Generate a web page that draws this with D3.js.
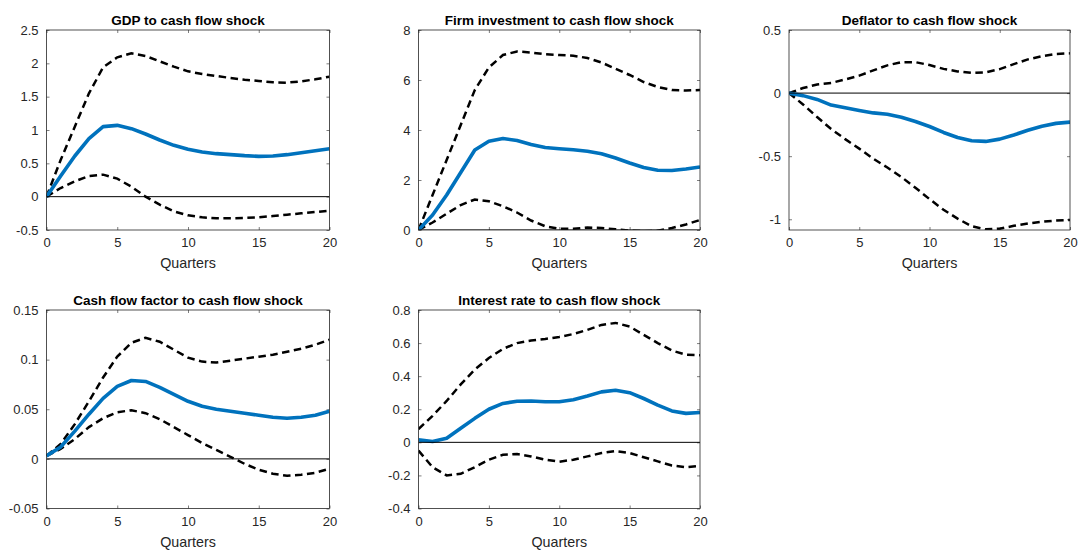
<!DOCTYPE html>
<html>
<head>
<meta charset="utf-8">
<script src="https://cdn.jsdelivr.net/npm/d3@7/dist/d3.min.js"></script>
<style>
  html, body { margin: 0; padding: 0; background: #fff; }
  svg { display: block; font-family: "Liberation Sans", Arial, Helvetica, sans-serif; }
</style>
</head>
<body>
<svg id="chart" width="1078" height="550"></svg>
<script>
// ---------- Data ----------
const quarters = d3.range(0, 21);
const xTicks = [0, 5, 10, 15, 20];

const titles = [
  "GDP to cash flow shock",
  "Firm investment to cash flow shock",
  "Deflator to cash flow shock",
  "Cash flow factor to cash flow shock",
  "Interest rate to cash flow shock"
];

// GDP
const gdpMid   = [0, 0.31, 0.61, 0.87, 1.05, 1.07, 1.02, 0.94, 0.85, 0.77, 0.71, 0.67, 0.645, 0.63, 0.615, 0.605, 0.61, 0.63, 0.66, 0.69, 0.72];
const gdpUpper = [0, 0.55, 1.05, 1.55, 1.94, 2.09, 2.15, 2.11, 2.03, 1.95, 1.88, 1.84, 1.81, 1.78, 1.755, 1.735, 1.715, 1.71, 1.73, 1.76, 1.8];
const gdpLower = [0, 0.13, 0.23, 0.31, 0.33, 0.27, 0.15, 0.0, -0.12, -0.22, -0.28, -0.31, -0.325, -0.325, -0.32, -0.31, -0.29, -0.27, -0.25, -0.23, -0.21];

// Firm investment
const invMid   = [0, 0.6, 1.4, 2.3, 3.2, 3.55, 3.66, 3.58, 3.42, 3.3, 3.25, 3.21, 3.15, 3.05, 2.88, 2.68, 2.5, 2.39, 2.38, 2.44, 2.52];
const invUpper = [0, 1.4, 2.8, 4.2, 5.6, 6.5, 7.0, 7.14, 7.1, 7.03, 7.0, 6.97, 6.88, 6.7, 6.45, 6.2, 5.92, 5.72, 5.6, 5.58, 5.6];
const invLower = [0, 0.3, 0.65, 1.0, 1.22, 1.15, 0.95, 0.7, 0.38, 0.15, 0.05, 0.05, 0.1, 0.08, 0.03, -0.02, -0.05, -0.03, 0.08, 0.22, 0.4];

// Deflator
const defMid   = [0, -0.02, -0.05, -0.095, -0.117, -0.138, -0.157, -0.168, -0.192, -0.225, -0.265, -0.312, -0.352, -0.378, -0.383, -0.365, -0.332, -0.295, -0.262, -0.24, -0.23];
const defUpper = [0, 0.04, 0.068, 0.08, 0.108, 0.138, 0.18, 0.22, 0.245, 0.245, 0.222, 0.192, 0.172, 0.16, 0.165, 0.19, 0.23, 0.267, 0.292, 0.31, 0.315];
const defLower = [0, -0.09, -0.19, -0.285, -0.365, -0.44, -0.52, -0.59, -0.665, -0.75, -0.84, -0.925, -0.995, -1.055, -1.08, -1.075, -1.052, -1.033, -1.02, -1.01, -1.005];

// Cash flow factor
const cffMid   = [0.003, 0.012, 0.028, 0.045, 0.061, 0.073, 0.079, 0.078, 0.072, 0.065, 0.058, 0.053, 0.05, 0.048, 0.046, 0.044, 0.042, 0.041, 0.042, 0.044, 0.048];
const cffUpper = [0.003, 0.015, 0.035, 0.058, 0.082, 0.103, 0.117, 0.122, 0.118, 0.11, 0.102, 0.098, 0.097, 0.099, 0.101, 0.103, 0.105, 0.108, 0.111, 0.115, 0.12];
const cffLower = [0.003, 0.01, 0.02, 0.032, 0.041, 0.047, 0.049, 0.046, 0.04, 0.032, 0.024, 0.016, 0.009, 0.002, -0.005, -0.011, -0.015, -0.017, -0.016, -0.014, -0.01];

// Interest rate
const irMid   = [0.015, 0.005, 0.025, 0.085, 0.145, 0.2, 0.235, 0.248, 0.25, 0.245, 0.245, 0.258, 0.28, 0.305, 0.315, 0.3, 0.265, 0.225, 0.19, 0.175, 0.18];
const irUpper = [0.08, 0.16, 0.25, 0.35, 0.44, 0.51, 0.565, 0.6, 0.615, 0.625, 0.637, 0.655, 0.68, 0.71, 0.722, 0.7, 0.65, 0.6, 0.555, 0.53, 0.527];
const irLower = [-0.05, -0.15, -0.2, -0.19, -0.15, -0.105, -0.075, -0.07, -0.085, -0.105, -0.117, -0.105, -0.085, -0.065, -0.053, -0.065, -0.09, -0.115, -0.14, -0.15, -0.142];

const yDomains = [[-0.5, 2.5], [0, 8], [-1.085, 0.5], [-0.05, 0.15], [-0.4, 0.8]];
const yTickLists = [
  [-0.5, 0, 0.5, 1, 1.5, 2, 2.5],
  [0, 2, 4, 6, 8],
  [-1, -0.5, 0, 0.5],
  [-0.05, 0, 0.05, 0.1, 0.15],
  [-0.4, -0.2, 0, 0.2, 0.4, 0.6, 0.8]
];
const midSeries   = [gdpMid, invMid, defMid, cffMid, irMid];
const upperSeries = [gdpUpper, invUpper, defUpper, cffUpper, irUpper];
const lowerSeries = [gdpLower, invLower, defLower, cffLower, irLower];

// ---------- Layout ----------
const cols = [[46.5, 329.5], [418.5, 700], [789, 1070]];
const rows = [[30, 230], [310, 508.5]];
const boxes = [
  { c: 0, r: 0 }, { c: 1, r: 0 }, { c: 2, r: 0 },
  { c: 0, r: 1 }, { c: 1, r: 1 }
];

const svg = d3.select("#chart");
const axisColor = "#262626";
const fmt = v => String(+v.toFixed(4));

boxes.forEach((b, i) => {
  const [x0, x1] = cols[b.c];
  const [y0, y1] = rows[b.r];
  const x = d3.scaleLinear().domain([0, 20]).range([x0, x1]);
  const y = d3.scaleLinear().domain(yDomains[i]).range([y1, y0]);
  const g = svg.append("g");

  const clipId = "clip" + i;
  g.append("clipPath").attr("id", clipId)
    .append("rect").attr("x", x0).attr("y", y0).attr("width", x1 - x0).attr("height", y1 - y0);

  // axes (inward ticks, boxed)
  const tl = 3;
  g.append("g").attr("transform", `translate(0,${y1})`)
    .call(d3.axisBottom(x).tickValues(xTicks).tickSizeInner(-tl).tickSizeOuter(0).tickPadding(8).tickFormat(fmt))
    .call(a => a.select(".domain").remove())
    .call(a => a.selectAll("line").attr("stroke", axisColor).attr("stroke-width", 0.6))
    .call(a => a.selectAll("text").attr("fill", axisColor).attr("font-size", "13px").attr("dy", "0.71em"));
  g.append("g").attr("transform", `translate(0,${y0})`)
    .call(d3.axisTop(x).tickValues(xTicks).tickSizeInner(-tl).tickSizeOuter(0).tickFormat(""))
    .call(a => a.select(".domain").remove())
    .call(a => a.selectAll("line").attr("stroke", axisColor).attr("stroke-width", 0.6));
  g.append("g").attr("transform", `translate(${x0},0)`)
    .call(d3.axisLeft(y).tickValues(yTickLists[i]).tickSizeInner(-tl).tickSizeOuter(0).tickPadding(8).tickFormat(fmt))
    .call(a => a.select(".domain").remove())
    .call(a => a.selectAll("line").attr("stroke", axisColor).attr("stroke-width", 0.6))
    .call(a => a.selectAll("text").attr("fill", axisColor).attr("font-size", "13px"));
  g.append("g").attr("transform", `translate(${x1},0)`)
    .call(d3.axisRight(y).tickValues(yTickLists[i]).tickSizeInner(-tl).tickSizeOuter(0).tickFormat(""))
    .call(a => a.select(".domain").remove())
    .call(a => a.selectAll("line").attr("stroke", axisColor).attr("stroke-width", 0.6));

  const plot = g.append("g").attr("clip-path", `url(#${clipId})`);
  const line = d3.line().x((d, k) => x(quarters[k])).y(d => y(d));

  plot.append("path").datum(upperSeries[i]).attr("d", line)
    .attr("fill", "none").attr("stroke", "#000").attr("stroke-width", 2.5).attr("stroke-dasharray", "7.5,4.5");
  plot.append("path").datum(lowerSeries[i]).attr("d", line)
    .attr("fill", "none").attr("stroke", "#000").attr("stroke-width", 2.5).attr("stroke-dasharray", "7.5,4.5");
  plot.append("path").datum(midSeries[i]).attr("d", line)
    .attr("fill", "none").attr("stroke", "#0072BD").attr("stroke-width", 3.6).attr("stroke-linejoin", "round");

  // zero line
  plot.append("line").attr("x1", x0).attr("x2", x1).attr("y1", y(0)).attr("y2", y(0))
    .attr("stroke", "#000").attr("stroke-width", 1);

  // box
  g.append("rect").attr("x", x0).attr("y", y0).attr("width", x1 - x0).attr("height", y1 - y0)
    .attr("fill", "none").attr("stroke", axisColor).attr("stroke-width", 0.8);

  // title
  g.append("text").attr("x", (x0 + x1) / 2).attr("y", y0 - 5.5)
    .attr("text-anchor", "middle").attr("font-size", "13.5px").attr("font-weight", "bold").attr("fill", "#000")
    .text(titles[i]);

  // x label
  g.append("text").attr("x", (x0 + x1) / 2).attr("y", y1 + 38)
    .attr("text-anchor", "middle").attr("font-size", "14.3px").attr("fill", axisColor)
    .text("Quarters");
});
</script>
</body>
</html>
